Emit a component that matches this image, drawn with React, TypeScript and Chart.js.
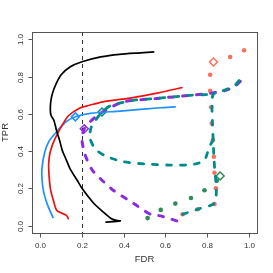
import React, { useEffect, useRef } from "react";
import { Chart, registerables } from "chart.js";

Chart.register(...registerables);

// ---- axis ticks ----
const tickValues = [0, 0.2, 0.4, 0.6, 0.8, 1.0];
const tickLabels = ["0.0", "0.2", "0.4", "0.6", "0.8", "1.0"];
const fdrCutoff = 0.2;
const xTitle = "FDR";
const yTitle = "TPR";

// ---- solid curves ----
const blackFDR = [0.547, 0.48, 0.38, 0.29, 0.2, 0.144, 0.1, 0.075, 0.058, 0.05, 0.048, 0.052, 0.065, 0.078, 0.092, 0.105, 0.125, 0.145, 0.176, 0.2, 0.256, 0.3, 0.344, 0.37, 0.384, 0.312];
const blackTPR = [0.933, 0.928, 0.92, 0.906, 0.88, 0.853, 0.81, 0.76, 0.71, 0.665, 0.62, 0.59, 0.566, 0.51, 0.46, 0.405, 0.352, 0.3, 0.245, 0.2, 0.12, 0.075, 0.035, 0.027, 0.025, 0.018];

const redFDR = [0.136, 0.125, 0.08, 0.064, 0.048, 0.04, 0.042, 0.05, 0.068, 0.1, 0.135, 0.19, 0.232, 0.3, 0.43, 0.567, 0.683];
const redTPR = [0.034, 0.055, 0.08, 0.13, 0.2, 0.31, 0.36, 0.406, 0.46, 0.53, 0.59, 0.632, 0.645, 0.665, 0.685, 0.713, 0.742];

const blueFDR = [0.062, 0.035, 0.016, 0.008, 0.008, 0.02, 0.04, 0.075, 0.12, 0.168, 0.24, 0.384, 0.575, 0.65];
const blueTPR = [0.04, 0.11, 0.18, 0.25, 0.31, 0.39, 0.45, 0.5, 0.555, 0.585, 0.603, 0.615, 0.633, 0.638];

// ---- dashed curves ----
const purpleFDR = [0.655, 0.576, 0.53, 0.446, 0.35, 0.29, 0.248, 0.215, 0.2, 0.211, 0.264, 0.33, 0.4, 0.56, 0.72, 0.87, 0.93, 0.96];
const purpleTPR = [0.025, 0.052, 0.06, 0.12, 0.19, 0.25, 0.3, 0.38, 0.46, 0.52, 0.584, 0.63, 0.665, 0.683, 0.7, 0.72, 0.745, 0.775];

const tealRightFDR = [0.683, 0.756, 0.835, 0.845, 0.838, 0.833, 0.83, 0.826, 0.824, 0.83, 0.87, 0.93, 0.972];
const tealRightTPR = [0.06, 0.088, 0.12, 0.2, 0.29, 0.37, 0.45, 0.55, 0.65, 0.705, 0.722, 0.75, 0.805];

const tealLoopFDR = [0.83, 0.81, 0.79, 0.76, 0.7, 0.62, 0.51, 0.4, 0.32, 0.265, 0.238, 0.245, 0.296, 0.34, 0.46, 0.56, 0.72, 0.83];
const tealLoopTPR = [0.46, 0.42, 0.355, 0.335, 0.325, 0.325, 0.33, 0.343, 0.37, 0.41, 0.47, 0.53, 0.61, 0.645, 0.675, 0.683, 0.7, 0.705];

// ---- dotted curves ----
const coralFDR = [0.683, 0.756, 0.836, 0.843, 0.836, 0.833, 0.828, 0.823, 0.82, 0.815, 0.815, 0.911, 0.978];
const coralTPR = [0.061, 0.088, 0.116, 0.2, 0.284, 0.37, 0.459, 0.549, 0.636, 0.724, 0.81, 0.906, 0.942];

const greenFDR = [0.515, 0.578, 0.648, 0.723, 0.788, 0.847];
const greenTPR = [0.04, 0.084, 0.118, 0.148, 0.19, 0.241];

// ---- diamond markers ----
const diamondFDR = [0.168, 0.211, 0.296, 0.831, 0.863];
const diamondTPR = [0.584, 0.52, 0.61, 0.879, 0.266];

const BLACK = "#000000";
const RED = "#f01010";
const BLUE = "#1E90FF";
const PURPLE = "#8A2BE2";
const TEAL = "#008B8B";
const CORAL = "#FA7060";
const GREEN = "#2E8B57";
const diamondColors = [BLUE, PURPLE, TEAL, CORAL, GREEN];

const pts = (xs: number[], ys: number[]) => xs.map((x, i) => ({ x, y: ys[i] }));

const FONT = "'Liberation Sans', Arial, Helvetica, sans-serif";

const rAxesPlugin = {
  id: "rAxes",
  beforeDatasetsDraw(chart: any) {
    const { ctx, chartArea, scales } = chart;
    const px = Math.round(scales.x.getPixelForValue(fdrCutoff)) + 0.5;
    ctx.save();
    ctx.strokeStyle = "#333";
    ctx.lineWidth = 1;
    ctx.setLineDash([4, 4]);
    ctx.beginPath();
    ctx.moveTo(px, chartArea.top);
    ctx.lineTo(px, chartArea.bottom);
    ctx.stroke();
    ctx.restore();
  },
  afterDraw(chart: any) {
    const { ctx, chartArea, scales } = chart;
    const { left, right, top, bottom } = chartArea;
    ctx.save();
    ctx.strokeStyle = "#555";
    ctx.lineWidth = 1;
    ctx.setLineDash([]);
    ctx.strokeRect(Math.round(left) + 0.5, Math.round(top) + 0.5, Math.round(right - left), Math.round(bottom - top));

    ctx.fillStyle = "#333";
    ctx.font = `8px ${FONT}`;
    // x axis
    tickValues.forEach((v, i) => {
      const px = Math.round(scales.x.getPixelForValue(v)) + 0.5;
      ctx.beginPath();
      ctx.moveTo(px, Math.round(bottom) + 0.5);
      ctx.lineTo(px, Math.round(bottom) + 4.5);
      ctx.stroke();
      ctx.textAlign = "center";
      ctx.textBaseline = "middle";
      ctx.fillText(tickLabels[i], px, bottom + 12.5);
    });
    // y axis
    tickValues.forEach((v, i) => {
      const py = Math.round(scales.y.getPixelForValue(v)) + 0.5;
      ctx.beginPath();
      ctx.moveTo(Math.round(left) + 0.5, py);
      ctx.lineTo(Math.round(left) - 3.5, py);
      ctx.stroke();
      ctx.save();
      ctx.translate(left - 11, py);
      ctx.rotate(-Math.PI / 2);
      ctx.textAlign = "center";
      ctx.textBaseline = "middle";
      ctx.fillText(tickLabels[i], 0, 0);
      ctx.restore();
    });
    // titles
    ctx.font = `9.5px ${FONT}`;
    ctx.textAlign = "center";
    ctx.textBaseline = "middle";
    ctx.fillText(xTitle, (left + right) / 2, bottom + 26.5);
    ctx.save();
    ctx.translate(left - 27, (top + bottom) / 2);
    ctx.rotate(-Math.PI / 2);
    ctx.fillText(yTitle, 0, 0);
    ctx.restore();
    ctx.restore();
  },
};

export default function App() {
  const ref = useRef<HTMLCanvasElement | null>(null);

  useEffect(() => {
    if (!ref.current) return;
    const solid = (data: any, color: string) => ({
      type: "line" as const,
      data,
      borderColor: color,
      borderWidth: 1.7,
      pointRadius: 0,
      tension: 0.25,
      fill: false,
    });
    const dashed = (data: any, color: string, width: number) => ({
      type: "line" as const,
      data,
      borderColor: color,
      borderWidth: width,
      borderDash: [5, 9],
      borderCapStyle: "round" as const,
      pointRadius: 0,
      tension: 0.25,
      fill: false,
    });
    const dots = (data: any, color: string) => ({
      type: "scatter" as const,
      data,
      showLine: false,
      pointRadius: 2.3,
      pointBackgroundColor: color,
      pointBorderWidth: 0,
      pointBorderColor: color,
    });

    const chart = new Chart(ref.current, {
      type: "scatter",
      data: {
        datasets: [
          solid(pts(blackFDR, blackTPR), BLACK),
          solid(pts(redFDR, redTPR), RED),
          solid(pts(blueFDR, blueTPR), BLUE),
          dashed(pts(tealRightFDR, tealRightTPR), TEAL, 2.8),
          dashed(pts(tealLoopFDR, tealLoopTPR), TEAL, 2.8),
          dashed(pts(purpleFDR, purpleTPR), PURPLE, 3),
          dots(pts(coralFDR, coralTPR), CORAL),
          dots(pts(greenFDR, greenTPR), GREEN),
          {
            type: "scatter" as const,
            data: pts(diamondFDR, diamondTPR),
            showLine: false,
            pointStyle: "rectRot",
            pointRadius: 4,
            pointBorderWidth: 1.5,
            pointBackgroundColor: "rgba(255,255,255,0)",
            pointBorderColor: diamondColors,
          },
        ] as any,
      },
      options: {
        responsive: false,
        maintainAspectRatio: false,
        devicePixelRatio: 1,
        animation: false,
        layout: { padding: { left: 32, top: 32, right: 16, bottom: 40 } },
        plugins: { legend: { display: false }, tooltip: { enabled: false } },
        scales: {
          x: { type: "linear", min: -0.04, max: 1.04, display: false },
          y: { type: "linear", min: -0.04, max: 1.04, display: false },
        },
        elements: { line: { spanGaps: false } as any },
      },
      plugins: [rAxesPlugin],
    });
    return () => chart.destroy();
  }, []);

  return (
    <div style={{ position: "fixed", left: 0, top: 0, width: 273, height: 273, background: "#fff" }}>
      <canvas ref={ref} width={273} height={273} style={{ display: "block", width: 273, height: 273 }} />
    </div>
  );
}
